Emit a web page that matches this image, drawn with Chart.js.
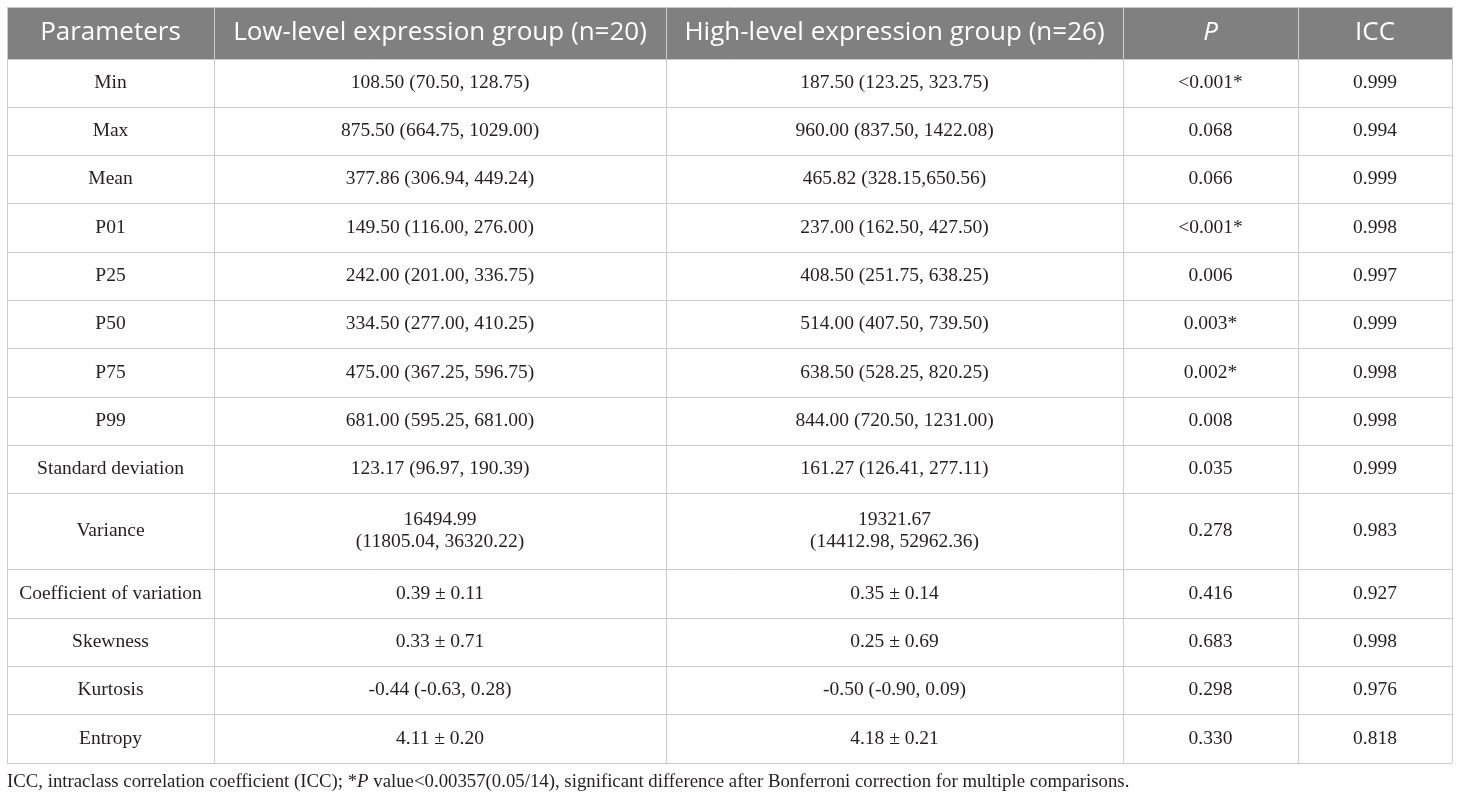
<!DOCTYPE html>
<html>
<head>
<meta charset="utf-8">
<script src="https://cdn.jsdelivr.net/npm/chart.js@4.4.1/dist/chart.umd.min.js"></script>
<style>
html,body{margin:0;padding:0;background:#ffffff;}
#wrap{width:1460px;height:800px;}
</style>
</head>
<body>
<div id="wrap"><canvas id="c" width="1460" height="800"></canvas></div>
<script>
// ---- data ----
const columns = ['Parameters', 'Low-level expression group (n=20)', 'High-level expression group (n=26)', 'P', 'ICC'];
const parameters = ['Min', 'Max', 'Mean', 'P01', 'P25', 'P50', 'P75', 'P99', 'Standard deviation', 'Variance', 'Coefficient of variation', 'Skewness', 'Kurtosis', 'Entropy'];
const lowLevel = ['108.50 (70.50, 128.75)', '875.50 (664.75, 1029.00)', '377.86 (306.94, 449.24)', '149.50 (116.00, 276.00)', '242.00 (201.00, 336.75)', '334.50 (277.00, 410.25)', '475.00 (367.25, 596.75)', '681.00 (595.25, 681.00)', '123.17 (96.97, 190.39)', '16494.99\n(11805.04, 36320.22)', '0.39 \u00b1 0.11', '0.33 \u00b1 0.71', '-0.44 (-0.63, 0.28)', '4.11 \u00b1 0.20'];
const highLevel = ['187.50 (123.25, 323.75)', '960.00 (837.50, 1422.08)', '465.82 (328.15,650.56)', '237.00 (162.50, 427.50)', '408.50 (251.75, 638.25)', '514.00 (407.50, 739.50)', '638.50 (528.25, 820.25)', '844.00 (720.50, 1231.00)', '161.27 (126.41, 277.11)', '19321.67\n(14412.98, 52962.36)', '0.35 \u00b1 0.14', '0.25 \u00b1 0.69', '-0.50 (-0.90, 0.09)', '4.18 \u00b1 0.21'];
const pValues = ['<0.001*', '0.068', '0.066', '<0.001*', '0.006', '0.003*', '0.002*', '0.008', '0.035', '0.278', '0.416', '0.683', '0.298', '0.330'];
const iccValues = ['0.999', '0.994', '0.999', '0.998', '0.997', '0.999', '0.998', '0.998', '0.999', '0.983', '0.927', '0.998', '0.976', '0.818'];
const footnoteParts = [
  {t: 'ICC, intraclass correlation coefficient (ICC); *', i: false},
  {t: 'P', i: true},
  {t: ' value<0.00357(0.05/14), significant difference after Bonferroni correction for multiple comparisons.', i: false}
];

// ---- layout (table units) ----
const colEdges = [0, 207, 659, 1116, 1291, 1445];
const rowEdges = [0, 52, 100, 148, 196, 245, 293, 341, 390, 438, 486, 562, 611, 659, 707, 756];
const colCenter = i => (colEdges[i] + colEdges[i + 1]) / 2;
const rowCenter = i => (rowEdges[i] + rowEdges[i + 1]) / 2;

const HEADER_FONT = '400 26px "Open Sans", "Noto Sans", sans-serif';
const HEADER_FONT_I = 'italic 400 26px "Open Sans", "Noto Sans", sans-serif';
const BODY_FONT = '19.5px "Liberation Serif", "DejaVu Serif", serif';
const FOOT_FONT = '18.8px "Liberation Serif", "DejaVu Serif", serif';
const FOOT_FONT_I = 'italic 18.8px "Liberation Serif", "DejaVu Serif", serif';
const BODY_COLOR = '#231f20';
const HEADER_BG = '#7f807f';
const GRID = '#cbcbcb';

const bodyCols = [parameters, lowLevel, highLevel, pValues, iccValues];
const datasets = [];
datasets.push({
  label: 'header',
  texts: columns,
  isHeader: true,
  data: columns.map((c, i) => ({x: colCenter(i), y: rowCenter(0)}))
});
bodyCols.forEach((arr, ci) => {
  datasets.push({
    label: columns[ci],
    texts: arr,
    isHeader: false,
    data: arr.map((v, ri) => ({x: colCenter(ci), y: rowCenter(ri + 1)}))
  });
});

const tablePlugin = {
  id: 'tablePlugin',
  beforeDraw(chart) {
    const ctx = chart.ctx, xs = chart.scales.x, ys = chart.scales.y;
    ctx.save();
    ctx.fillStyle = HEADER_BG;
    const x0 = xs.getPixelForValue(colEdges[0]), x1 = xs.getPixelForValue(colEdges[colEdges.length - 1]);
    const y0 = ys.getPixelForValue(rowEdges[0]), y1 = ys.getPixelForValue(rowEdges[1]);
    ctx.fillRect(x0, y0, x1 - x0, y1 - y0);
    ctx.restore();
  },
  afterDatasetsDraw(chart) {
    const ctx = chart.ctx;
    ctx.save();
    ctx.textAlign = 'center';
    ctx.textBaseline = 'middle';
    chart.data.datasets.forEach((ds, di) => {
      const meta = chart.getDatasetMeta(di);
      meta.data.forEach((pt, i) => {
        const txt = ds.texts[i];
        if (ds.isHeader) {
          ctx.fillStyle = '#ffffff';
          ctx.font = txt === 'P' ? HEADER_FONT_I : HEADER_FONT;
        } else {
          ctx.fillStyle = BODY_COLOR;
          ctx.font = BODY_FONT;
        }
        const lines = txt.split('\n');
        const lh = 22;
        lines.forEach((ln, k) => {
          ctx.fillText(ln, pt.x, pt.y + (k - (lines.length - 1) / 2) * lh);
        });
      });
    });
    // footnote
    const xs = chart.scales.x, ys = chart.scales.y;
    let fx = xs.getPixelForValue(0);
    const fy = ys.getPixelForValue(rowEdges[rowEdges.length - 1]) + 19;
    ctx.textAlign = 'left';
    ctx.fillStyle = BODY_COLOR;
    footnoteParts.forEach(p => {
      ctx.font = p.i ? FOOT_FONT_I : FOOT_FONT;
      ctx.fillText(p.t, fx, fy);
      fx += ctx.measureText(p.t).width;
    });
    ctx.restore();
  }
};

new Chart(document.getElementById('c'), {
  type: 'scatter',
  data: {datasets},
  options: {
    responsive: false,
    animation: false,
    devicePixelRatio: 1,
    layout: {padding: {left: 7, top: 7, right: 8, bottom: 37}},
    elements: {point: {radius: 0, hoverRadius: 0}},
    plugins: {legend: {display: false}, tooltip: {enabled: false}, title: {display: false}},
    events: [],
    scales: {
      x: {
        type: 'linear', min: colEdges[0], max: colEdges[colEdges.length - 1],
        afterBuildTicks: s => { s.ticks = colEdges.map(v => ({value: v})); },
        ticks: {display: false},
        grid: {color: GRID, lineWidth: 1, drawTicks: false},
        border: {display: false}
      },
      y: {
        type: 'linear', reverse: true, min: rowEdges[0], max: rowEdges[rowEdges.length - 1],
        afterBuildTicks: s => { s.ticks = rowEdges.map(v => ({value: v})); },
        ticks: {display: false},
        grid: {color: GRID, lineWidth: 1, drawTicks: false},
        border: {display: false}
      }
    }
  },
  plugins: [tablePlugin]
});
</script>
</body>
</html>
